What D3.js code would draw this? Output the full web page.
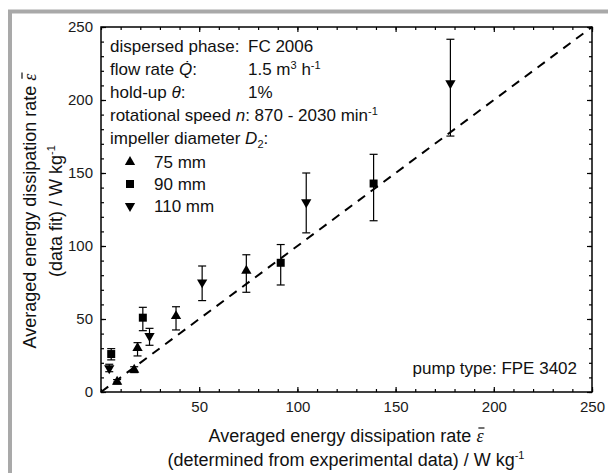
<!DOCTYPE html>
<html>
<head>
<meta charset="utf-8">
<script src="https://cdnjs.cloudflare.com/ajax/libs/d3/7.8.5/d3.min.js"></script>
<style>
  body { margin: 0; background: #fff; }
  svg { display: block; font-family: "Liberation Sans", Arial, sans-serif; }
</style>
</head>
<body>
<svg width="608" height="473"></svg>
<script>
// values
var seriesNames = ["75 mm", "90 mm", "110 mm"];

var x75 = [8.2, 16.9, 18.6, 38.2, 74.0];
var y75 = [7.0, 15.3, 30.2, 52.0, 83.1];
var lo75 = [5.5, 13.3, 24.7, 42.5, 68.3];
var hi75 = [8.5, 17.3, 33.8, 58.4, 94.0];

var x90 = [5.2, 21.3, 91.5, 138.8];
var y90 = [26.0, 50.9, 88.5, 142.8];
var lo90 = [22.0, 42.0, 73.3, 117.3];
var hi90 = [29.7, 58.0, 101.0, 162.8];

var x110 = [4.2, 24.7, 51.5, 104.5, 177.9];
var y110 = [16.2, 38.4, 75.1, 130.0, 211.5];
var lo110 = [13.9, 32.0, 62.6, 109.0, 175.3];
var hi110 = [19.0, 43.6, 86.3, 150.0, 241.6];

var xTicks = [50, 100, 150, 200, 250];
var yTicks = [0, 50, 100, 150, 200, 250];

var svg = d3.select("svg");

// grey outer frame
svg.append("rect")
    .attr("x", 10).attr("y", 11.5)
    .attr("width", 620).attr("height", 480)
    .attr("fill", "none")
    .attr("stroke", "#a9a9a9")
    .attr("stroke-width", 4);

var x = d3.scaleLinear().domain([0, 250]).range([101, 592]);
var y = d3.scaleLinear().domain([0, 250]).range([392, 27]);

function pts(xs, ys, los, his) {
    return xs.map(function(v, i) { return {x: v, y: ys[i], lo: los[i], hi: his[i]}; });
}
var series = [
    {name: seriesNames[0], sym: "up", data: pts(x75, y75, lo75, hi75)},
    {name: seriesNames[1], sym: "sq", data: pts(x90, y90, lo90, hi90)},
    {name: seriesNames[2], sym: "down", data: pts(x110, y110, lo110, hi110)}
];

// axes, ticks pointing inward
var minor = d3.range(0, 251, 10);
function styleAxis(g) {
    g.select(".domain").remove();
    g.selectAll("line").attr("stroke", "#000").attr("stroke-width", 1.2);
    g.selectAll("text").attr("font-size", 15).attr("fill", "#1a1a1a")
        .attr("font-family", "Liberation Sans, Arial, sans-serif");
}
var H = 392, L = 101, T = 27, R = 592;

svg.append("g").attr("transform", "translate(0," + H + ")")
    .call(d3.axisBottom(x).tickValues(xTicks).tickSize(-5).tickPadding(9))
    .call(styleAxis);
svg.append("g").attr("transform", "translate(0," + H + ")")
    .call(d3.axisBottom(x).tickValues(minor).tickSize(-3).tickFormat(""))
    .call(styleAxis);
svg.append("g").attr("transform", "translate(0," + T + ")")
    .call(d3.axisTop(x).tickValues(xTicks).tickSize(-5).tickFormat(""))
    .call(styleAxis);
svg.append("g").attr("transform", "translate(0," + T + ")")
    .call(d3.axisTop(x).tickValues(minor).tickSize(-3).tickFormat(""))
    .call(styleAxis);

svg.append("g").attr("transform", "translate(" + L + ",0)")
    .call(d3.axisLeft(y).tickValues(yTicks).tickSize(-5).tickPadding(8))
    .call(styleAxis);
svg.append("g").attr("transform", "translate(" + L + ",0)")
    .call(d3.axisLeft(y).tickValues(minor).tickSize(-3).tickFormat(""))
    .call(styleAxis);
svg.append("g").attr("transform", "translate(" + R + ",0)")
    .call(d3.axisRight(y).tickValues(yTicks).tickSize(-5).tickFormat(""))
    .call(styleAxis);
svg.append("g").attr("transform", "translate(" + R + ",0)")
    .call(d3.axisRight(y).tickValues(minor).tickSize(-3).tickFormat(""))
    .call(styleAxis);

svg.append("rect")
    .attr("x", L).attr("y", T)
    .attr("width", R - L).attr("height", H - T)
    .attr("fill", "none").attr("stroke", "#000").attr("stroke-width", 1.5);

// parity line
svg.append("line")
    .attr("x1", x(0)).attr("y1", y(0))
    .attr("x2", x(250)).attr("y2", y(250))
    .attr("stroke", "#000").attr("stroke-width", 2)
    .attr("stroke-dasharray", "9,7");

var symUp = d3.symbol().type(d3.symbolTriangle).size(46);
var symSq = d3.symbol().type(d3.symbolSquare).size(64);
function symPath(s) { return s === "sq" ? symSq() : symUp(); }
function symRot(s) { return s === "down" ? " rotate(180)" : ""; }

// error bars and markers
series.forEach(function(s) {
    var g = svg.append("g");
    var eb = g.selectAll("g.eb").data(s.data).enter().append("g");
    eb.append("line")
        .attr("x1", function(d) { return x(d.x); }).attr("x2", function(d) { return x(d.x); })
        .attr("y1", function(d) { return y(d.lo); }).attr("y2", function(d) { return y(d.hi); })
        .attr("stroke", "#000").attr("stroke-width", 1.2);
    ["lo", "hi"].forEach(function(k) {
        eb.append("line")
            .attr("x1", function(d) { return x(d.x) - 4; }).attr("x2", function(d) { return x(d.x) + 4; })
            .attr("y1", function(d) { return y(d[k]); }).attr("y2", function(d) { return y(d[k]); })
            .attr("stroke", "#000").attr("stroke-width", 1.2);
    });
    g.selectAll("path").data(s.data).enter().append("path")
        .attr("d", symPath(s.sym))
        .attr("transform", function(d) { return "translate(" + x(d.x) + "," + y(d.y) + ")" + symRot(s.sym); })
        .attr("fill", "#000");
});

// info text
var info = svg.append("g").attr("font-size", 17).attr("fill", "#111");
function line(xp, yp) { return info.append("text").attr("x", xp).attr("y", yp); }
var it = "font-style:italic";

line(110, 52).text("dispersed phase:");
line(248, 52).text("FC 2006");

var t = line(110, 75);
t.append("tspan").text("flow rate ");
t.append("tspan").attr("style", it).text("Q\u0307");
t.append("tspan").text(":");
t = line(248, 75);
t.append("tspan").text("1.5 m");
t.append("tspan").attr("font-size", 11).attr("dy", -6).text("3");
t.append("tspan").attr("dy", 6).text(" h");
t.append("tspan").attr("font-size", 11).attr("dy", -6).text("-1");

t = line(110, 98);
t.append("tspan").text("hold-up ");
t.append("tspan").attr("style", it).text("\u03b8");
t.append("tspan").text(":");
line(248, 98).text("1%");

t = line(110, 121);
t.append("tspan").text("rotational speed ");
t.append("tspan").attr("style", it).text("n");
t.append("tspan").text(": 870 - 2030 min");
t.append("tspan").attr("font-size", 11).attr("dy", -6).text("-1");

t = line(110, 144);
t.append("tspan").text("impeller diameter ");
t.append("tspan").attr("style", it).text("D");
t.append("tspan").attr("font-size", 11).attr("dy", 4).text("2");
t.append("tspan").attr("dy", -4).text(":");

var legY = [162, 184, 206];
series.forEach(function(s, i) {
    svg.append("path")
        .attr("d", symPath(s.sym))
        .attr("transform", "translate(130," + legY[i] + ")" + symRot(s.sym))
        .attr("fill", "#000");
    line(154, legY[i] + 6).text(s.name);
});

svg.append("text").attr("x", 577).attr("y", 374)
    .attr("text-anchor", "end").attr("font-size", 17).attr("fill", "#111")
    .text("pump type: FPE 3402");

// axis titles; epsilon gets a bar drawn above it
function epsBar(g, txt) {
    txt.append("tspan").attr("font-family", "Liberation Serif, serif")
        .attr("style", it).text("\u03b5");
    var node = txt.node();
    var r = node.getExtentOfChar(node.getNumberOfChars() - 1);
    g.append("line")
        .attr("x1", r.x + 2).attr("x2", r.x + r.width + 1)
        .attr("y1", r.y + 2).attr("y2", r.y + 2)
        .attr("stroke", "#111").attr("stroke-width", 1.2);
}
var xt = svg.append("g").attr("font-size", 18).attr("fill", "#111").attr("text-anchor", "middle");
t = xt.append("text").attr("x", 346).attr("y", 442);
t.append("tspan").text("Averaged energy dissipation rate ");
epsBar(xt, t);
t = xt.append("text").attr("x", 346).attr("y", 466);
t.append("tspan").text("(determined from experimental data) / W kg");
t.append("tspan").attr("font-size", 11).attr("dy", -7).text("-1");

var yt = svg.append("g").attr("font-size", 18).attr("fill", "#111").attr("text-anchor", "middle")
    .attr("transform", "translate(0,211) rotate(-90)");
t = yt.append("text").attr("x", 0).attr("y", 36);
t.append("tspan").text("Averaged energy dissipation rate ");
epsBar(yt, t);
t = yt.append("text").attr("x", 0).attr("y", 62);
t.append("tspan").text("(data fit) / W kg");
t.append("tspan").attr("font-size", 11).attr("dy", -7).text("-1");
</script>
</body>
</html>
